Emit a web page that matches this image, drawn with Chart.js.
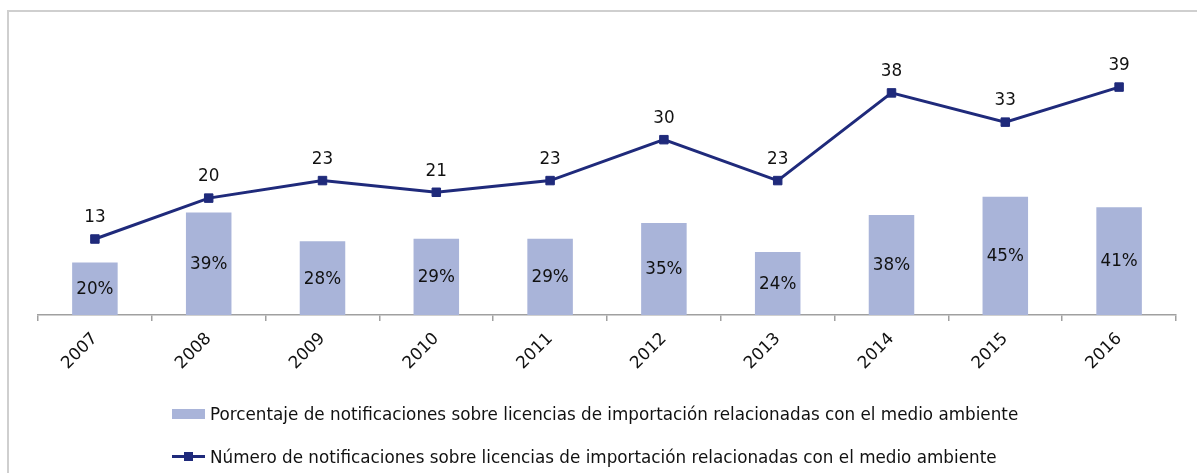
<html>
	<head>
		<script src="https://cdn.jsdelivr.net/npm/chart.js@4/dist/chart.umd.min.js"></script>
		<style>
			html, body{
				margin:0;
				width:1197px; height:473px;
				background:#fff;
				overflow:hidden;
				font-family:'DejaVu Sans', Verdana, sans-serif;
			}
			#frame{
				position:absolute;
				left:7px; top:10px;
				width:1400px; height:600px;
				border-top:2px solid #cfcfcf;
				border-left:2px solid #cfcfcf;
			}
			#chart{
				position:absolute;
				left:0; top:0;
			}
			.legendRow{
				position:absolute;
				left:172px;
				font-size:16.8px;
				color:#111;
				white-space:nowrap;
				line-height:20px;
			}
			.swatch{
				display:inline-block;
				width:33px; height:10px;
				vertical-align:middle;
				margin-right:5px;
				position:relative;
				top:-1px;
			}
			#barSwatch{ background:#a9b4d9; }
			#lineSwatch .ln{
				position:absolute; left:0; top:3px;
				width:33px; height:3px; background:#1f2a7b;
			}
			#lineSwatch .mk{
				position:absolute; left:12px; top:0px;
				width:9px; height:9px; background:#1f2a7b;
			}
		</style>
	</head>

	<body>
		<div id="frame"></div>
		<canvas id="chart" width="1197" height="473"></canvas>
		<div class="legendRow" style="top:404px;"><span class="swatch" id="barSwatch"></span>Porcentaje de notificaciones sobre licencias de importación relacionadas con el medio ambiente</div>
		<div class="legendRow" style="top:447px;"><span class="swatch" id="lineSwatch"><span class="ln"></span><span class="mk"></span></span>Número de notificaciones sobre licencias de importación relacionadas con el medio ambiente</div>
	</body>
	<script>
		//Data
		let years = ["2007","2008","2009","2010","2011","2012","2013","2014","2015","2016"];
		let percentNotif = [20, 39, 28, 29, 29, 35, 24, 38, 45, 41];
		let numberNotif = [13, 20, 23, 21, 23, 30, 23, 38, 33, 39];

		let BAR_COLOR = '#a9b4d9';
		let LINE_COLOR = '#1f2a7b';
		let FONT = "'DejaVu Sans', Verdana, sans-serif";

		//Draw value labels on bars and points
		const valueLabels = {
			id: 'valueLabels',
			afterDatasetsDraw(chart){
				let ctx = chart.ctx;
				ctx.save();
				ctx.font = '16.8px ' + FONT;
				ctx.fillStyle = '#111';
				ctx.textAlign = 'center';
				ctx.textBaseline = 'middle';
				chart.data.datasets.forEach((ds, i) => {
					let meta = chart.getDatasetMeta(i);
					meta.data.forEach((el, j) => {
						if (ds.type == 'line') {
							ctx.fillText(ds.data[j], el.x, el.y - 21);
						} else {
							ctx.fillText(ds.data[j] + '%', el.x, (el.y + el.base) / 2 + 1);
						}
					});
				});
				ctx.restore();
			}
		};

		var ctx = document.getElementById('chart').getContext('2d');
		var chart = new Chart(ctx, {
			type: 'bar',
			data: {
				labels: years,
				datasets: [
					{
						type: 'line',
						label: 'Número de notificaciones sobre licencias de importación relacionadas con el medio ambiente',
						data: numberNotif,
						yAxisID: 'yLine',
						borderColor: LINE_COLOR,
						backgroundColor: LINE_COLOR,
						borderWidth: 3,
						pointStyle: 'rect',
						pointRadius: 6,
						pointBorderWidth: 1,
						tension: 0,
						order: 0
					},
					{
						type: 'bar',
						label: 'Porcentaje de notificaciones sobre licencias de importación relacionadas con el medio ambiente',
						data: percentNotif,
						yAxisID: 'yBar',
						backgroundColor: BAR_COLOR,
						categoryPercentage: 1,
						barPercentage: 0.4,
						order: 1
					}
				]
			},
			options: {
				responsive: false,
				animation: false,
				devicePixelRatio: 1,
				layout: { padding: { left: 38, right: 21, top: 52, bottom: 98 } },
				plugins: {
					legend: { display: false },
					tooltip: { enabled: false }
				},
				scales: {
					x: {
						afterFit(scale){ scale.height = 60; },
						grid: {
							display: true,
							drawOnChartArea: false,
							drawTicks: true,
							tickLength: 6,
							color: '#a0a0a0',
							lineWidth: 1.5
						},
						border: { color: '#a0a0a0', width: 1.5 },
						ticks: {
							minRotation: 45,
							maxRotation: 45,
							padding: 8,
							color: '#111',
							font: { family: FONT, size: 16.8 }
						}
					},
					yBar: { display: false, min: 0, max: 100 },
					yLine: { display: false, min: 0, max: 45 }
				}
			},
			plugins: [valueLabels]
		});
	</script>
</html>
